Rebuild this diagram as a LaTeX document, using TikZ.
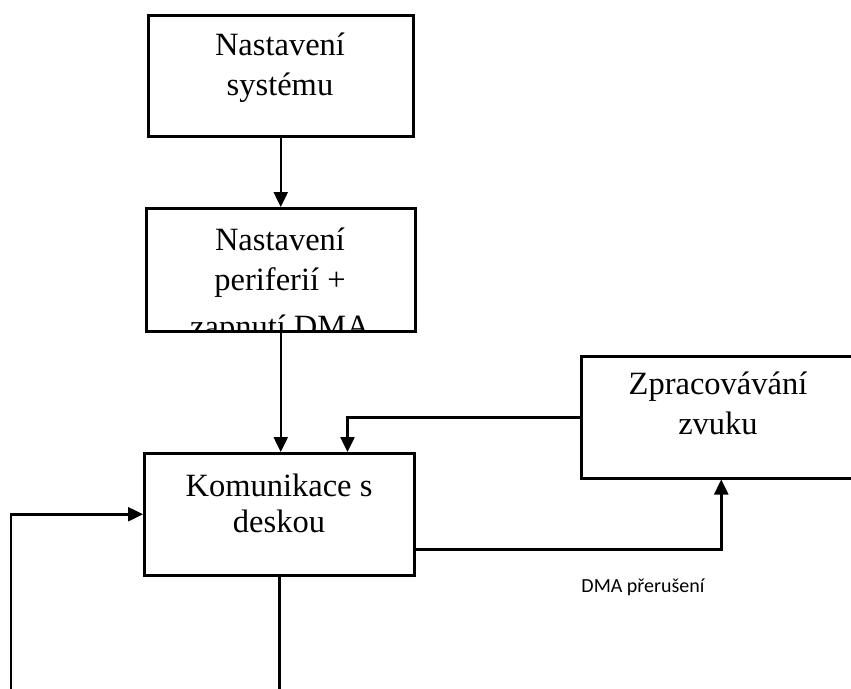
\documentclass[tikz,border=0pt]{standalone}
\usepackage{fontspec}
\setmainfont{Liberation Serif}
\newfontfamily\lblfont{Carlito}
\usetikzlibrary{arrows.meta}
\begin{document}
\begin{tikzpicture}[x=1pt,y=-1pt,line width=2.5pt,
  box/.style={draw,rectangle,inner sep=0pt,anchor=north west},
  txt/.style={font=\fontsize{32.5}{40}\selectfont,align=center,inner sep=0pt,anchor=base},
  arr/.style={-{Triangle[length=15pt,width=14pt]}}]
\useasboundingbox (0,0) rectangle (851,688);
\clip (0,0) rectangle (851,688);
\node[box,minimum width=265,minimum height=121] (nast) at (147,14) {};
\node[box,minimum width=269,minimum height=123] (peri) at (145,207) {};
\node[box,minimum width=270,minimum height=122] (kom) at (143,452) {};
\node[box,minimum width=280,minimum height=122] (zprac) at (580,355) {};
% anchor base = baseline of the last line
\node[txt] (nasttxt) at (280,95) {Nastavení\\systému};
\begin{scope}
\clip (peri.north west) rectangle (peri.south east);
\node[txt] (peritxt) at (280,337) {Nastavení\\periferií +\\[7pt]zapnutí DMA};
\end{scope}
\node[txt] (komtxt) at (279,532) {Komunikace s\\[-4pt]deskou};
\node[txt] (zpractxt) at (718,434) {Zpracovávání\\zvuku};
\node[inner sep=0pt,anchor=base,font=\lblfont\fontsize{20}{24}\selectfont] (dma) at (643,592) {DMA přerušení};
\coordinate (lp) at (11,700);
\coordinate (dn) at (280,700);
\draw[arr] (nast) -- (peri);
\draw[arr] (peri.south) -- (peri.south |- kom.north);
\draw[arr] (zprac.west) -| ([xshift=-68pt]kom.north east);
\draw[arr] ([yshift=-35pt]kom.east) -| (zprac.south);
\draw[arr] (lp) |- (kom.west);
\draw (kom.south) -- (kom.south |- dn);
\end{tikzpicture}
\end{document}
